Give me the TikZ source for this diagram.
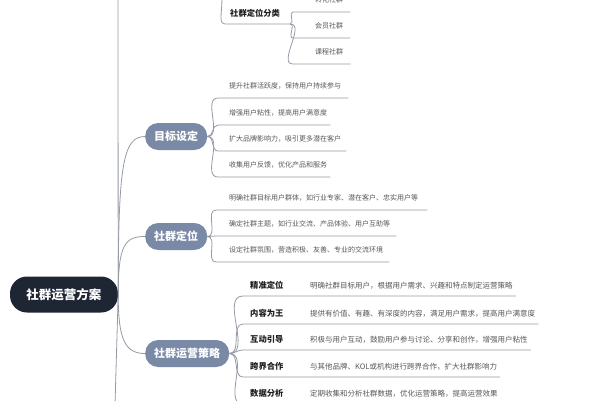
\documentclass[tikz,border=0pt]{standalone}
\usepackage{fontspec}
\usepackage{tikz}
\newfontfamily\cjk{Noto Sans CJK SC}
\definecolor{rootfill}{HTML}{1E2533}
\definecolor{mainfill}{HTML}{7A8AA6}
\definecolor{linkgray}{HTML}{959BA4}
\definecolor{leaftext}{HTML}{585858}
\definecolor{tagtext}{HTML}{1E1E1E}

\begin{document}
\begin{tikzpicture}[x=1pt, y=-1pt, font=\cjk,
    root/.style={fill=rootfill, text=white, rounded corners=17pt, minimum width=108pt, minimum height=36pt, font=\cjk\bfseries\fontsize{12.5}{14}\selectfont},
    main/.style={fill=mainfill, text=white, rounded corners=13pt, minimum height=27pt, inner xsep=9pt, anchor=west, font=\cjk\bfseries\fontsize{11}{13}\selectfont},
    leaf/.style={anchor=south west, inner sep=0pt, text depth=9pt, text=leaftext, font=\cjk\fontsize{7}{8}\selectfont},
    tag/.style={anchor=south west, inner sep=0pt, text depth=7pt, text=tagtext, font=\cjk\bfseries\fontsize{8.3}{9}\selectfont},
    note/.style={leaf, text depth=7pt, font=\cjk\fontsize{7.5}{8}\selectfont},
    link/.style={draw=linkgray, line width=0.8pt}]
    \useasboundingbox[fill=white] (0, 0) rectangle (600, 400);

    \node (root) [root] at (64, 294.5) {社群运营方案};
    \coordinate (up) at (118, -5);
    \coordinate (down) at (115, 405);

    \node (goal) [main] at (145, 136.5) {目标设定};
    \node (locate) [main] at (145, 236.5) {社群定位};
    \node (strategy) [main, minimum width=83pt] at (145, 353.5) {社群运营策略};

    % off-page branch at the top
    \coordinate (catin) at (222, -4);
    \node (cat) [tag] at (230, 24) {社群定位分类};
    \node (c1) [leaf] at (315, 12) {转化社群};
    \node (c2) [leaf] at (315, 38) {会员社群};
    \node (c3) [leaf] at (315, 64) {课程社群};

    \node (g1) [leaf] at (229, 98) {提升社群活跃度，保持用户持续参与};
    \node (g2) [leaf] at (229, 125) {增强用户粘性，提高用户满意度};
    \node (g3) [leaf] at (229, 151) {扩大品牌影响力，吸引更多潜在客户};
    \node (g4) [leaf] at (229, 177) {收集用户反馈，优化产品和服务};

    \node (p1) [leaf] at (229, 210) {明确社群目标用户群体，如行业专家、潜在客户、忠实用户等};
    \node (p2) [leaf] at (229, 236) {确定社群主题，如行业交流、产品体验、用户互助等};
    \node (p3) [leaf] at (229, 262) {设定社群氛围，营造积极、友善、专业的交流环境};

    \node (s1) [tag] at (250, 296) {精准定位};
    \node (s1d) [note] at (310, 296) {明确社群目标用户，根据用户需求、兴趣和特点制定运营策略};
    \node (s2) [tag] at (250, 324) {内容为王};
    \node (s2d) [note] at (310, 324) {提供有价值、有趣、有深度的内容，满足用户需求，提高用户满意度};
    \node (s3) [tag] at (250, 350) {互动引导};
    \node (s3d) [note] at (310, 350) {积极与用户互动，鼓励用户参与讨论、分享和创作，增强用户粘性};
    \node (s4) [tag] at (250, 377) {跨界合作};
    \node (s4d) [note] at (310, 377) {与其他品牌、KOL或机构进行跨界合作，扩大社群影响力};
    \node (s5) [tag] at (250, 404) {数据分析};
    \node (s5d) [note] at (310, 404) {定期收集和分析社群数据，优化运营策略，提高运营效果};

    % root branches
    \draw[link] (root.east) -- (up);
    \draw[link] (root.east) -- (down);
    \draw[link] (root.east) .. controls +(0, -130) and +(-22, 0) .. (goal.west);
    \draw[link] (root.east) .. controls +(0, -50) and +(-20, 0) .. (locate.west);
    \draw[link] (root.east) .. controls +(0, 45) and +(-20, 0) .. (strategy.west);

    \draw[link] (catin) .. controls +(0, 20) and +(-8, 0) .. ([xshift=-4pt]cat.south west) -- ([xshift=10pt]cat.south east);
    \draw[link] ([xshift=10pt]cat.south east) to[out=0, in=180] ([xshift=-22pt]c1.south west) -- ([xshift=7pt]c1.south east);
    \draw[link] ([xshift=10pt]cat.south east) to[out=0, in=180] ([xshift=-22pt]c2.south west) -- ([xshift=7pt]c2.south east);
    \draw[link] ([xshift=10pt]cat.south east) to[out=0, in=180] ([xshift=-22pt]c3.south west) -- ([xshift=7pt]c3.south east);

    \draw[link] (goal.east) to[out=0, in=180] ([xshift=-11pt]g1.south west) -- ([xshift=7pt]g1.south east);
    \draw[link] (goal.east) to[out=0, in=180] ([xshift=-11pt]g2.south west) -- ([xshift=3pt]g2.south east);
    \draw[link] (goal.east) to[out=0, in=180] ([xshift=-11pt]g3.south west) -- ([xshift=5pt]g3.south east);
    \draw[link] (goal.east) to[out=0, in=180] ([xshift=-11pt]g4.south west) -- ([xshift=3pt]g4.south east);

    \draw[link] (locate.east) to[out=0, in=180] ([xshift=-13pt]p1.south west) -- ([xshift=9pt]p1.south east);
    \draw[link] (locate.east) -- ([xshift=-13pt]p2.south west) -- ([xshift=6pt]p2.south east);
    \draw[link] (locate.east) to[out=0, in=180] ([xshift=-13pt]p3.south west) -- ([xshift=6pt]p3.south east);

    \draw[link] (strategy.east) to[out=0, in=180] ([xshift=-7pt]s1.south west) -- ([xshift=3pt]s1d.south east);
    \draw[link] (strategy.east) to[out=0, in=180] ([xshift=-7pt]s2.south west) -- ([xshift=3pt]s2d.south east);
    \draw[link] (strategy.east) to[out=0, in=180] ([xshift=-7pt]s3.south west) -- ([xshift=3pt]s3d.south east);
    \draw[link] (strategy.east) to[out=0, in=180] ([xshift=-7pt]s4.south west) -- ([xshift=3pt]s4d.south east);
    \draw[link] (strategy.east) to[out=0, in=180] ([xshift=-7pt]s5.south west) -- ([xshift=3pt]s5d.south east);
\end{tikzpicture}
\end{document}
